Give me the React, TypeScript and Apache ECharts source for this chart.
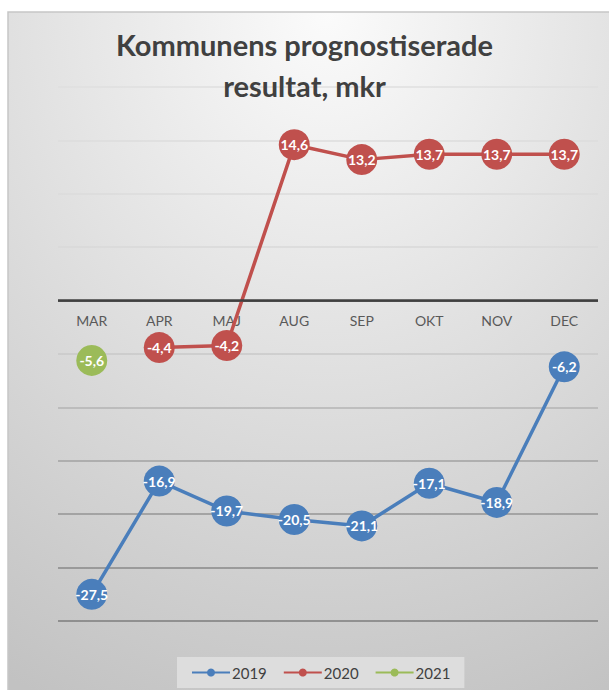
import React, { useEffect, useRef } from "react";
import * as echarts from "echarts";

const categories = ["MAR", "APR", "MAJ", "AUG", "SEP", "OKT", "NOV", "DEC"];
const series2019 = [-27.5, -16.9, -19.7, -20.5, -21.1, -17.1, -18.9, -6.2];
const series2020 = [null, -4.4, -4.2, 14.6, 13.2, 13.7, 13.7, 13.7];
const series2021 = [-5.6, null, null, null, null, null, null, null];
const seriesNames = ["2019", "2020", "2021"];
const colors = ["#4a7ebb", "#c0504d", "#9bbb59"];
const titleText = "Kommunens prognostiserade\nresultat, mkr";

const FONT = "Lato, 'Open Sans', sans-serif";

export default function App() {
  const ref = useRef<HTMLDivElement>(null);
  useEffect(() => {
    if (!ref.current) return;
    const chart = echarts.init(ref.current, undefined, { renderer: "svg" });
    const dataSets = [series2019, series2020, series2021];
    const mkSeries = (i: number) => ({
      name: seriesNames[i],
      type: "line",
      data: dataSets[i],
      connectNulls: false,
      symbol: "circle",
      symbolSize: 31,
      lineStyle: { color: colors[i], width: 3.5 },
      itemStyle: { color: colors[i] },
      label: {
        show: true,
        position: "inside",
        color: "#ffffff",
        fontWeight: "bold",
        fontSize: 14,
        fontFamily: FONT,
        formatter: (p: any) => String(p.value).replace(".", ","),
      },
      z: 3 + i,
    });
    chart.setOption({
      animation: false,
      textStyle: { fontFamily: FONT },
      graphic: [
        {
          type: "rect",
          z: -10,
          silent: true,
          shape: { x: 8, y: 12, width: 640, height: 720 },
          style: {
            stroke: "#c6c6c6",
            lineWidth: 1.5,
            fill: new echarts.graphic.RadialGradient(0.5, 0, 1.05, [
              { offset: 0, color: "#fbfbfb" },
              { offset: 1, color: "#c2c2c2" },
            ]),
          },
        },
      ],
      title: {
        text: titleText,
        left: "center",
        top: 19,
        textStyle: {
          fontFamily: FONT,
          fontSize: 29,
          fontWeight: "bold",
          color: "#404040",
          lineHeight: 41,
        },
      },
      legend: {
        data: seriesNames,
        left: 177,
        top: 657,
        padding: [8, 14, 8, 14],
        backgroundColor: "rgba(225,225,225,0.85)",
        itemWidth: 38,
        itemHeight: 10,
        itemGap: 16,
        textStyle: { fontSize: 15, color: "#404040", fontFamily: FONT, padding: [0, 0, 0, -3] },
      },
      grid: { left: 58, right: 11, top: 87, height: 534, containLabel: false },
      xAxis: {
        type: "category",
        data: categories,
        boundaryGap: true,
        axisLine: { onZero: false, show: false },
        axisTick: { show: false },
        axisLabel: { color: "#595959", fontSize: 14, margin: -308, fontFamily: FONT },
        splitLine: { show: false },
        z: 2,
      },
      yAxis: {
        type: "value",
        min: -30,
        max: 20,
        interval: 5,
        axisLabel: { show: false },
        axisLine: { show: false },
        axisTick: { show: false },
        splitLine: {
          show: true,
          lineStyle: {
            width: 1.5,
            color: [
              "#7d7d7d",
              "#888888",
              "#949494",
              "#a2a2a2",
              "#b3b3b3",
              "#c8c8c8",
              "#404040",
              "#d8d8d8",
              "#dbdbdb",
              "#dddddd",
              "#dfdfdf",
            ],
          },
        },
      },
      series: [
        mkSeries(0),
        mkSeries(1),
        mkSeries(2),
        {
          name: "zero",
          type: "line",
          data: [],
          markLine: {
            silent: true,
            symbol: "none",
            label: { show: false },
            lineStyle: { color: "#404040", width: 2.5, type: "solid" },
            data: [{ yAxis: 0 }],
          },
          z: 1,
        },
      ],
    });
    return () => chart.dispose();
  }, []);
  return (
    <div
      ref={ref}
      style={{ position: "absolute", left: 0, top: 0, width: 609, height: 690 }}
    />
  );
}
